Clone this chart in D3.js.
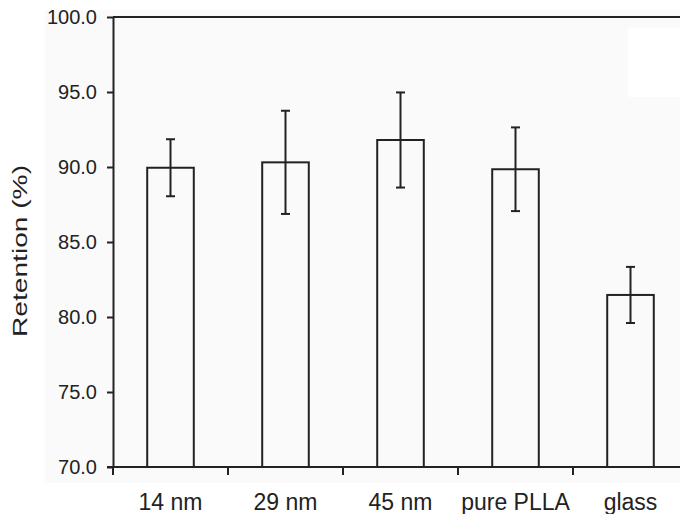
<!DOCTYPE html>
<html>
<head>
<meta charset="utf-8">
<script src="https://cdn.jsdelivr.net/npm/d3@7"></script>
<style>
  body { margin: 0; background: #fff; }
  text { font-family: "Liberation Sans", Arial, sans-serif; fill: #222; }
</style>
</head>
<body>
<div id="chart"></div>
<script>
const categories = ["14 nm", "29 nm", "45 nm", "pure PLLA", "glass"];
const retention = [89.95, 90.31, 91.8, 89.85, 81.47];
const errors = [1.9, 3.44, 3.17, 2.79, 1.87];
const yTicks = [70, 75, 80, 85, 90, 95, 100];

let width = 680, height = 514;
let plotLeft = 113, plotRight = 688, plotTop = 17, plotBottom = 467;

let svg = d3.select("#chart").append("svg")
  .attr("width", width).attr("height", height);

// faint grey backdrop of the scanned figure
svg.append("rect").attr("x", 45).attr("y", 10).attr("width", 635).attr("height", 473)
  .attr("fill", "#fafafa");
svg.append("rect").attr("x", 628).attr("y", 28).attr("width", 52).attr("height", 69)
  .attr("fill", "#fff");

let x = d3.scaleBand().domain(categories).range([plotLeft, plotRight])
  .paddingInner(0.595).paddingOuter(0.2975);
let y = d3.scaleLinear().domain([70, 100]).range([plotBottom, plotTop]);

let data = categories.map((c, i) => ({ cat: c, val: retention[i], err: errors[i] }));

// bars
svg.append("g").selectAll("rect")
  .data(data).enter().append("rect")
  .attr("x", d => x(d.cat))
  .attr("y", d => y(d.val))
  .attr("width", x.bandwidth())
  .attr("height", d => y(70) - y(d.val))
  .attr("fill", "none")
  .attr("stroke", "#222")
  .attr("stroke-width", 2);

// error bars
let eb = svg.append("g").attr("stroke", "#222").attr("stroke-width", 2);
data.forEach(d => {
  let cx = x(d.cat) + x.bandwidth() / 2;
  eb.append("line").attr("x1", cx).attr("x2", cx)
    .attr("y1", y(d.val + d.err)).attr("y2", y(d.val - d.err));
  [d.val + d.err, d.val - d.err].forEach(v => {
    eb.append("line").attr("x1", cx - 4.5).attr("x2", cx + 4.5)
      .attr("y1", y(v)).attr("y2", y(v));
  });
});

// left axis
let yAxis = svg.append("g").attr("transform", `translate(${plotLeft},0)`)
  .call(d3.axisLeft(y).tickValues(yTicks).tickFormat(d3.format(".1f"))
    .tickSize(6).tickSizeOuter(0).tickPadding(10));
yAxis.select(".domain").attr("stroke", "#222").attr("stroke-width", 2);
yAxis.selectAll(".tick line").attr("stroke", "#222").attr("stroke-width", 2);
yAxis.selectAll(".tick text").style("font-size", "20px")
  .style("font-family", "'Liberation Sans', Arial, sans-serif").attr("fill", "#222");

// top frame line
svg.append("line").attr("x1", plotLeft).attr("x2", width)
  .attr("y1", plotTop).attr("y2", plotTop)
  .attr("stroke", "#222").attr("stroke-width", 2);

// bottom axis: line, boundary ticks, labels
svg.append("line").attr("x1", plotLeft - 6).attr("x2", width)
  .attr("y1", plotBottom).attr("y2", plotBottom)
  .attr("stroke", "#222").attr("stroke-width", 2);
let bounds = categories.map(c => x(c) - x.step() * x.paddingOuter());
svg.append("g").selectAll("line")
  .data(bounds).enter().append("line")
  .attr("x1", d => d).attr("x2", d => d)
  .attr("y1", plotBottom).attr("y2", plotBottom + 8)
  .attr("stroke", "#222").attr("stroke-width", 2);

svg.append("g").selectAll("text")
  .data(categories).enter().append("text")
  .attr("x", d => x(d) + x.bandwidth() / 2)
  .attr("y", 510)
  .attr("text-anchor", "middle")
  .style("font-size", "23px")
  .text(d => d);

// y title
svg.append("text")
  .attr("transform", "translate(27,251) rotate(-90)")
  .attr("text-anchor", "middle")
  .attr("textLength", 172)
  .attr("lengthAdjust", "spacingAndGlyphs")
  .style("font-size", "21px")
  .text("Retention (%)");
</script>
</body>
</html>
